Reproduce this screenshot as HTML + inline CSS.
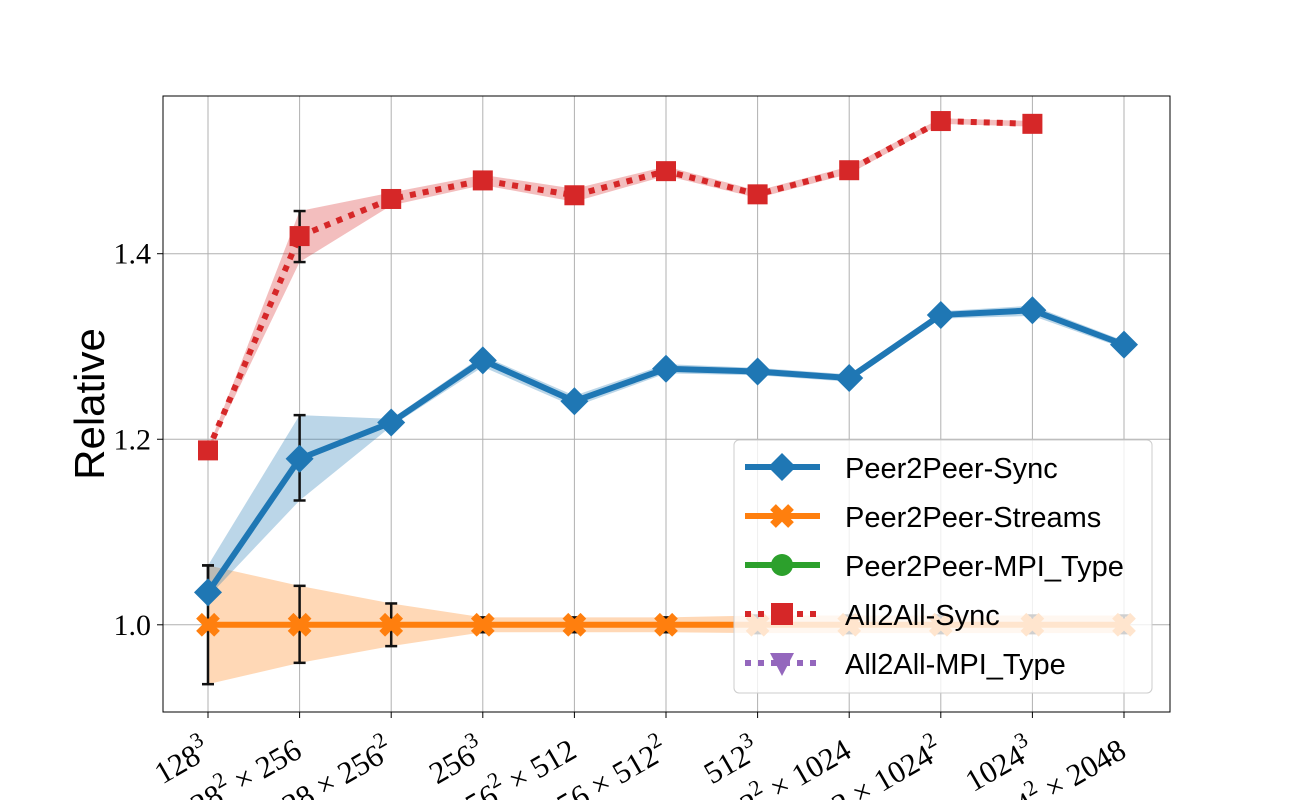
<!DOCTYPE html>
<html><head><meta charset="utf-8"><style>
html,body{margin:0;background:#fff;width:1300px;height:800px;overflow:hidden}
svg{display:block;overflow:hidden}
svg text{font-family:"Liberation Serif",serif}
</style></head><body>
<svg id="chart" width="1300" height="800" xmlns="http://www.w3.org/2000/svg">
<g id="grid"></g><g id="series"></g><g id="axes"></g><g id="legend"></g>
</svg>
<script>
const categories=["128","128² × 256","128 × 256²","256","256² × 512","256 × 512²","512","512² × 1024","512 × 1024²","1024","1024² × 2048"];
const catBase=["128","128","128","256","256","256","512","512","512","1024","1024"];
const catSup1=["3","2","","3","2","","3","2","","3","2"];
const catRest=[""," × 256"," × 256","", " × 512"," × 512",""," × 1024"," × 1024",""," × 2048"];
const catSup2=["","","2","","","2","","","2","",""];
const p2pSync=[1.035,1.179,1.218,1.285,1.241,1.276,1.273,1.266,1.334,1.339,1.302];
const p2pSyncLo=[1.03,1.134,1.214,1.278,1.235,1.271,1.269,1.262,1.330,1.333,1.298];
const p2pSyncHi=[1.064,1.226,1.222,1.290,1.247,1.281,1.277,1.270,1.338,1.344,1.306];
const a2aSync=[1.188,1.419,1.459,1.479,1.463,1.489,1.464,1.490,1.543,1.540];
const a2aSyncLo=[1.186,1.391,1.452,1.474,1.456,1.484,1.460,1.486,1.540,1.537];
const a2aSyncHi=[1.190,1.446,1.466,1.485,1.470,1.494,1.468,1.494,1.546,1.543];
const p2pStreams=[1,1,1,1,1,1,1,1,1,1,1];
const p2pStreamsLo=[0.936,0.959,0.977,0.992,0.992,0.992,0.991,0.991,0.991,0.991,0.991];
const p2pStreamsHi=[1.064,1.042,1.023,1.008,1.008,1.008,1.010,1.010,1.010,1.010,1.010];
const yTicks=[1.0,1.2,1.4];
const yTickLabels=["1.0","1.2","1.4"];

const NS="http://www.w3.org/2000/svg";
const L=163,R=1170,T=96,B=712,ymin=0.906,ymax=1.570;
const xS=i=>208+i*(1124-208)/10;
const yS=v=>B-(v-ymin)/(ymax-ymin)*(B-T);
function mk(tag,attrs,parent){const e=document.createElementNS(NS,tag);for(const k in attrs)e.setAttribute(k,attrs[k]);parent.appendChild(e);return e;}
const grid=document.getElementById('grid'),ser=document.getElementById('series'),ax=document.getElementById('axes'),lg=document.getElementById('legend');
categories.forEach((c,i)=>{const l=mk('line',{x1:xS(i),x2:xS(i),y1:T,y2:B,stroke:'#b0b0b0','stroke-width':1},grid);

});
yTicks.forEach((v,i)=>{const l=mk('line',{x1:L,x2:R,y1:yS(v),y2:yS(v),stroke:'#b0b0b0','stroke-width':1},grid);


mk('line',{x1:L-6,x2:L,y1:yS(v),y2:yS(v),stroke:'#000'},ax);
const tx=mk('text',{x:L-12,y:yS(v)+10,'text-anchor':'end','font-size':30},ax);tx.textContent=yTickLabels[i];

});
function band(lo,hi,color,name){let pts=lo.map((v,i)=>xS(i)+','+yS(v));for(let i=hi.length-1;i>=0;i--)pts.push(xS(i)+','+yS(hi[i]));
const p=mk('polygon',{points:pts.join(' '),fill:color,'fill-opacity':0.3},ser);

}
function errs(lo,hi,idx,name){idx.forEach(i=>{const g=mk('g',{stroke:'#111','stroke-width':2.5},ser);


mk('line',{x1:xS(i),x2:xS(i),y1:yS(lo[i]),y2:yS(hi[i])},g);
mk('line',{x1:xS(i)-6,x2:xS(i)+6,y1:yS(lo[i]),y2:yS(lo[i])},g);
mk('line',{x1:xS(i)-6,x2:xS(i)+6,y1:yS(hi[i]),y2:yS(hi[i])},g);});}
function line(vals,color,dash,name){const p=mk('polyline',{points:vals.map((v,i)=>xS(i)+','+yS(v)).join(' '),fill:'none',stroke:color,'stroke-width':6,'stroke-dasharray':dash||'none','stroke-linejoin':'round'},ser);

}
function diamond(x,y,c,p,s){return mk('polygon',{points:`${x},${y-s} ${x+s},${y} ${x},${y+s} ${x-s},${y}`,fill:c},p);}
function square(x,y,c,p,s){return mk('rect',{x:x-s,y:y-s,width:2*s,height:2*s,fill:c},p);}
function xmark(x,y,c,p,s){return mk('path',{d:`M${x-s},${y-s}L${x+s},${y+s}M${x+s},${y-s}L${x-s},${y+s}`,stroke:c,'stroke-width':s*0.9,'stroke-linecap':'butt'},p);}
band(p2pStreamsLo,p2pStreamsHi,'#ff7f0e','p2p-streams-band');
band(a2aSyncLo,a2aSyncHi,'#d62728','a2a-sync-band');
band(p2pSyncLo,p2pSyncHi,'#1f77b4','p2p-sync-band');
errs(p2pStreamsLo,p2pStreamsHi,[0,1,2,3,4,5,6,7,8,9,10],'p2p-streams-errorbar');
errs(p2pSyncLo,p2pSyncHi,[0,1],'p2p-sync-errorbar');
errs(a2aSyncLo,a2aSyncHi,[1],'a2a-sync-errorbar');
line(p2pStreams,'#ff7f0e',null,'p2p-streams-line');
p2pStreams.forEach((v,i)=>{const m=xmark(xS(i),yS(v),'#ff7f0e',ser,9);

});
line(a2aSync,'#d62728','6 7','a2a-sync-line');
a2aSync.forEach((v,i)=>{const m=square(xS(i),yS(v),'#d62728',ser,10);

});
line(p2pSync,'#1f77b4',null,'p2p-sync-line');
p2pSync.forEach((v,i)=>{const m=diamond(xS(i),yS(v),'#1f77b4',ser,14);

});
const fr=mk('rect',{x:L,y:T,width:R-L,height:B-T,fill:'none',stroke:'#000','stroke-width':1},ax);


categories.forEach((c,i)=>{mk('line',{x1:xS(i),x2:xS(i),y1:B,y2:B+6,stroke:'#000'},ax);
const t=mk('text',{'text-anchor':'end','font-size':31,transform:`translate(${xS(i)+4},${B+44}) rotate(-30)`},ax);


t.appendChild(document.createTextNode(catBase[i]));
if(catSup1[i]){const s=mk('tspan',{'font-size':22,dy:-14},t);s.textContent=catSup1[i];}
if(catRest[i]){const s=mk('tspan',{dy:catSup1[i]?14:0},t);s.textContent=catRest[i];}
if(catSup2[i]){const s=mk('tspan',{'font-size':22,dy:-14},t);s.textContent=catSup2[i];}});
const yl=mk('text',{'text-anchor':'middle','font-size':42,transform:'translate(104,404) rotate(-90)',style:'font-family:"Liberation Sans",sans-serif'},ax);
yl.textContent='Relative';


const box=mk('rect',{x:734,y:440,width:418,height:253,rx:5,fill:'#fff','fill-opacity':0.8,stroke:'#ccc'},lg);


const leg=[["Peer2Peer-Sync","#1f77b4",null,"d"],["Peer2Peer-Streams","#ff7f0e",null,"x"],["Peer2Peer-MPI_Type","#2ca02c",null,"o"],["All2All-Sync","#d62728","6 7","s"],["All2All-MPI_Type","#9467bd","6 7","v"]];
leg.forEach((e,i)=>{const y=467+i*49;const g=mk('g',{},lg);


mk('line',{x1:745,x2:820,y1:y,y2:y,stroke:e[1],'stroke-width':6,'stroke-dasharray':e[2]||'none'},g);
if(e[3]=='d')diamond(782,y,e[1],g,14);if(e[3]=='x')xmark(782,y,e[1],g,9);if(e[3]=='o')mk('circle',{cx:782,cy:y,r:11,fill:e[1]},g);
if(e[3]=='s')square(782,y,e[1],g,11);if(e[3]=='v')mk('polygon',{points:`770,${y-10} 794,${y-10} 782,${y+13}`,fill:e[1]},g);
const t=mk('text',{x:845,y:y+11,'font-size':29,style:'font-family:"Liberation Sans",sans-serif'},g);t.textContent=e[0];});
</script>
</body></html>
